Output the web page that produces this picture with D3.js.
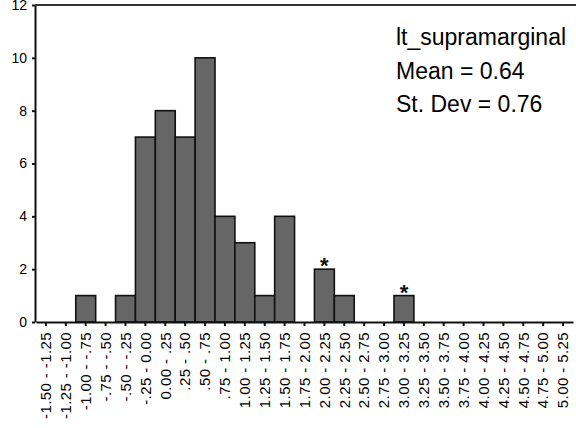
<html>
  <body style="margin:0;background:#fff">
    <script src="https://d3js.org/d3.v7.min.js"></script>
    <svg id="chart"></svg>
    <script>
      // bin labels, counts and flagged bins
      const bins = ['-1.50 - -1.25', '-1.25 - -1.00', '-1.00 - -.75', '-.75 - -.50', '-.50 - -.25',
        '-.25 - 0.00', '0.00 - .25', '.25 - .50', '.50 - .75', '.75 - 1.00', '1.00 - 1.25',
        '1.25 - 1.50', '1.50 - 1.75', '1.75 - 2.00', '2.00 - 2.25', '2.25 - 2.50', '2.50 - 2.75',
        '2.75 - 3.00', '3.00 - 3.25', '3.25 - 3.50', '3.50 - 3.75', '3.75 - 4.00', '4.00 - 4.25',
        '4.25 - 4.50', '4.50 - 4.75', '4.75 - 5.00', '5.00 - 5.25'];
      const counts = [0, 0, 1, 0, 1, 7, 8, 7, 10, 4, 3, 1, 4, 0, 2, 1, 0, 0, 1, 0, 0, 0, 0, 0, 0, 0, 0];
      const outlierBins = ['2.00 - 2.25', '3.00 - 3.25'];
      const yTicks = [0, 2, 4, 6, 8, 10, 12];
      const statLines = ['lt_supramarginal', 'Mean = 0.64', 'St. Dev = 0.76'];

      const width = 576, height = 428;
      const margin = { top: 5, left: 36, right: 3, bottom: 106 };
      const font = '"Liberation Sans", Arial, sans-serif';

      const svg = d3.select('#chart').attr('width', width).attr('height', height)
        .style('font-family', font);

      const x = d3.scaleBand().domain(bins).range([margin.left, width - margin.right]).padding(0);
      const y = d3.scaleLinear().domain([0, 12]).range([height - margin.bottom, margin.top]);

      // bars
      svg.append('g').selectAll('rect')
        .data(bins.map((b, i) => ({ b, v: counts[i] })).filter(d => d.v > 0))
        .join('rect')
        .attr('x', d => x(d.b))
        .attr('y', d => y(d.v))
        .attr('width', x.bandwidth())
        .attr('height', d => y(0) - y(d.v))
        .attr('fill', '#666666')
        .attr('stroke', '#111')
        .attr('stroke-width', 1.6);

      // outlier markers
      svg.append('g').selectAll('text')
        .data(outlierBins)
        .join('text')
        .attr('x', d => x(d) + x.bandwidth() / 2)
        .attr('y', d => y(counts[bins.indexOf(d)]) + 4)
        .attr('text-anchor', 'middle')
        .attr('font-size', 22)
        .attr('font-weight', 'bold')
        .attr('fill', '#111')
        .text('*');

      // x axis
      const xAxis = svg.append('g')
        .attr('transform', `translate(0,${y(0)})`)
        .call(d3.axisBottom(x).tickSize(4).tickSizeOuter(0));
      xAxis.select('.domain').attr('stroke', '#111').attr('stroke-width', 2);
      xAxis.selectAll('.tick line').attr('stroke', '#111').attr('stroke-width', 2);
      xAxis.selectAll('.tick text')
        .attr('font-family', font)
        .attr('font-size', 15)
        .attr('letter-spacing', 0.4)
        .attr('fill', '#000')
        .attr('transform', 'rotate(-90)')
        .attr('text-anchor', 'end')
        .attr('x', -10)
        .attr('y', 0)
        .attr('dy', '0.35em');

      // y axis
      const yAxis = svg.append('g')
        .attr('transform', `translate(${margin.left - 1},0)`)
        .call(d3.axisLeft(y).tickValues(yTicks).tickSize(3).tickSizeOuter(0));
      yAxis.select('.domain').attr('stroke', '#111').attr('stroke-width', 2);
      yAxis.selectAll('.tick line').attr('stroke', '#111').attr('stroke-width', 2);
      yAxis.selectAll('.tick text')
        .attr('font-family', font)
        .attr('font-size', 14)
        .attr('fill', '#000')
        .attr('x', -8);

      // frame top line
      svg.append('line')
        .attr('x1', margin.left - 1).attr('x2', width)
        .attr('y1', y(12)).attr('y2', y(12))
        .attr('stroke', '#333').attr('stroke-width', 2);

      // stats box
      svg.append('g').selectAll('text')
        .data(statLines)
        .join('text')
        .attr('x', 396)
        .attr('y', (d, i) => 45 + i * 33.5)
        .attr('font-size', 23)
        .attr('fill', '#000')
        .text(d => d);
    </script>
  </body>
</html>
